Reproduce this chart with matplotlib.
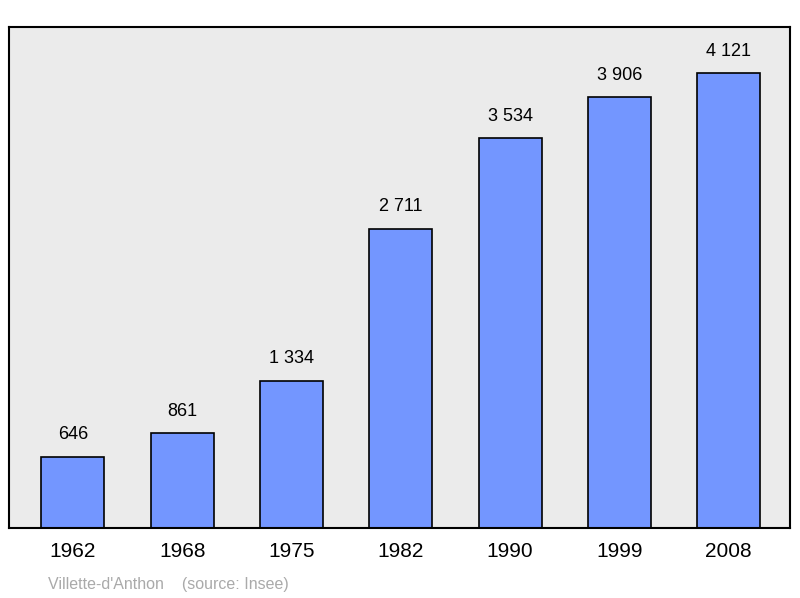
import matplotlib.pyplot as plt

years = ['1962', '1968', '1975', '1982', '1990', '1999', '2008']
population = [646, 861, 1334, 2711, 3534, 3906, 4121]
value_labels = ['646', '861', '1 334', '2 711', '3 534', '3 906', '4 121']

plt.rcParams['font.family'] = ['Liberation Sans', 'DejaVu Sans']

fig = plt.figure(figsize=(8, 5.98), dpi=100)
ax = fig.add_axes([9 / 800, 1 - 528 / 598, 781 / 800, 501 / 598])
ax.set_facecolor('#ebebeb')

x = range(len(years))
ax.bar(x, population, width=0.576, color='#7396ff', edgecolor='black', linewidth=1.2, zorder=2)
for i, (v, lab) in enumerate(zip(population, value_labels)):
    ax.text(i, v + 120, lab, ha='center', va='bottom', fontsize=13)

ax.set_xlim(-0.585, 6.56)
ax.set_ylim(0, 4538)
ax.set_yticks([])
ax.set_xticks(list(x))
ax.set_xticklabels(years, fontsize=15)
ax.tick_params(axis='x', length=0, pad=10)
for s in ax.spines.values():
    s.set_linewidth(1.5)

fig.text(48 / 800, 1 - 584 / 598, "Villette-d'Anthon    (source: Insee)",
         color='#aaaaaa', fontsize=11.5, va='center')

fig.savefig('out.png', dpi=100)
